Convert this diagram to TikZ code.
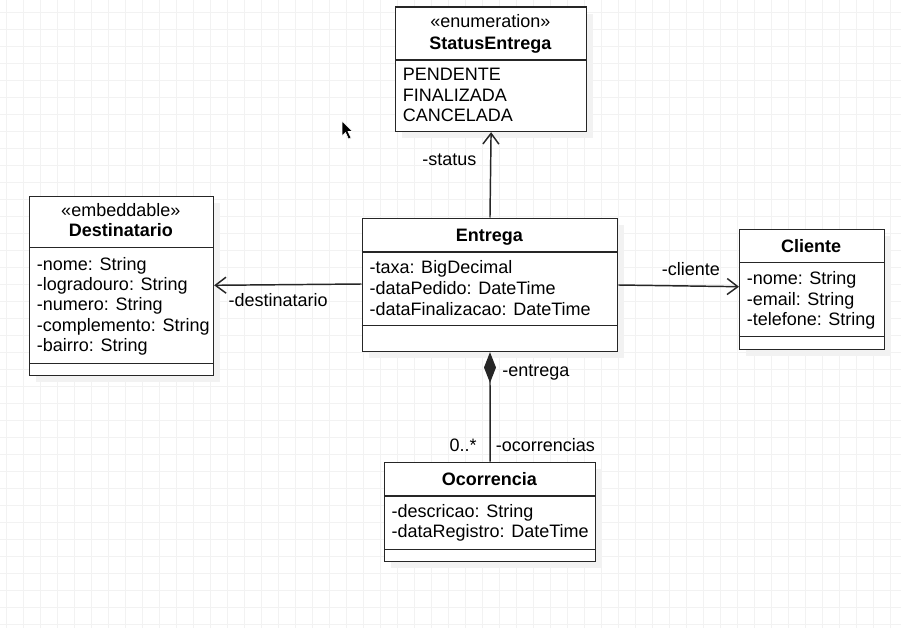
\documentclass[tikz,border=0pt]{standalone}
\usepackage{fontspec}
\setmainfont{Liberation Sans}
\usetikzlibrary{arrows.meta,shadows}
\tikzset{
  classbox/.style={draw=black!85, line width=1.1pt, fill=white, inner sep=0pt, anchor=north west,
    drop shadow={shadow xshift=5pt, shadow yshift=-5pt, fill=black!5, opacity=1}},
  sepline/.style={draw=black!85, line width=1.1pt},
  classname/.style={font=\fontsize{13.5}{16}\selectfont\bfseries, anchor=base, inner sep=0pt},
  member/.style={anchor=base west, inner sep=0pt},
  rolelabel/.style={inner sep=0pt},
  assoc/.style={draw=black!85, line width=1.1pt, -{Straight Barb[length=8pt,width=12pt]}},
  compose/.style={draw=black!85, line width=1.1pt, -{Diamond[length=23pt,width=9pt]}},
  gridline/.style={draw=black!5, line width=0.5pt}
}
\begin{document}
\begin{tikzpicture}[x=0.75pt, y=-0.75pt, font=\fontsize{13.5}{16}\selectfont]
			%%%%% START %%%%%
			
			\useasboundingbox[fill=white] (0, 0) rectangle (901, 628);
			\foreach \gx in {6, 23, ..., 900} \draw[gridline] (\gx, 0) -- (\gx, 628);
			\foreach \gy in {12, 29, ..., 627} \draw[gridline] (0, \gy) -- (901, \gy);
			
			% StatusEntrega
			\node[classbox, minimum width=190.7*0.75pt, minimum height=124.4*0.75pt] (status) at (395, 6.3) {};
			\draw[sepline] (status.west |- 0, 60) -- (status.east |- 0, 60);
			\node[anchor=base, inner sep=0pt] (statusstereo) at (490.3, 27) {«enumeration»};
			\node[classname] (statusname) at (490.3, 49) {StatusEntrega};
			\node[member] (pendente) at (402.7, 80) {PENDENTE};
			\node[member] (finalizada) at (402.7, 101) {FINALIZADA};
			\node[member] (cancelada) at (402.7, 121.5) {CANCELADA};
			
			% Destinatario
			\node[classbox, minimum width=183.7*0.75pt, minimum height=179.3*0.75pt] (destinatario) at (29, 195.7) {};
			\draw[sepline] (destinatario.west |- 0, 247.3) -- (destinatario.east |- 0, 247.3);
			\draw[sepline] (destinatario.west |- 0, 363.3) -- (destinatario.east |- 0, 363.3);
			\node[anchor=base, inner sep=0pt] (destinatariostereo) at (120.8, 216.5) {«embeddable»};
			\node[classname] (destinatarioname) at (120.8, 236.5) {Destinatario};
			\node[member] (dnome) at (36.7, 270) {-nome: String};
			\node[member] (dlogradouro) at (36.7, 290) {-logradouro: String};
			\node[member] (dnumero) at (36.7, 310.5) {-numero: String};
			\node[member] (dcomplemento) at (36.7, 331) {-complemento: String};
			\node[member] (dbairro) at (36.7, 351.5) {-bairro: String};
			
			% Entrega
			\node[classbox, minimum width=255.5*0.75pt, minimum height=133.2*0.75pt] (entrega) at (361.5, 217.5) {};
			\draw[sepline] (entrega.west |- 0, 252) -- (entrega.east |- 0, 252);
			\draw[sepline] (entrega.west |- 0, 325.7) -- (entrega.east |- 0, 325.7);
			\node[classname] (entreganame) at (489.3, 241.5) {Entrega};
			\node[member] (etaxa) at (369.3, 273) {-taxa: BigDecimal};
			\node[member] (epedido) at (369.3, 294) {-dataPedido: DateTime};
			\node[member] (efinalizacao) at (369.3, 315) {-dataFinalizacao: DateTime};
			
			% Cliente
			\node[classbox, minimum width=144.5*0.75pt, minimum height=120.3*0.75pt] (cliente) at (739, 228.7) {};
			\draw[sepline] (cliente.west |- 0, 262.7) -- (cliente.east |- 0, 262.7);
			\draw[sepline] (cliente.west |- 0, 336.7) -- (cliente.east |- 0, 336.7);
			\node[classname] (clientename) at (811.2, 252.5) {Cliente};
			\node[member] (cnome) at (746.5, 284) {-nome: String};
			\node[member] (cemail) at (746.5, 305) {-email: String};
			\node[member] (ctelefone) at (746.5, 325.5) {-telefone: String};
			
			% Ocorrencia
			\node[classbox, minimum width=210.7*0.75pt, minimum height=99.3*0.75pt] (ocorrencia) at (384, 461.7) {};
			\draw[sepline] (ocorrencia.west |- 0, 496) -- (ocorrencia.east |- 0, 496);
			\draw[sepline] (ocorrencia.west |- 0, 549.3) -- (ocorrencia.east |- 0, 549.3);
			\node[classname] (ocorrencianame) at (489.3, 485) {Ocorrencia};
			\node[member] (odescricao) at (391.4, 517) {-descricao: String};
			\node[member] (oregistro) at (391.4, 537.5) {-dataRegistro: DateTime};
			
			% associations
			\draw[assoc] (entrega.north) -- (status.south);
			\draw[assoc] (entrega.west |- 0, 284) -- (destinatario.east |- 0, 285.3);
			\draw[assoc] (entrega.east |- 0, 285) -- (cliente.west |- 0, 286.7);
			\draw[compose] (ocorrencia.north) -- (entrega.south);
			
			\node[rolelabel, anchor=base east] (lstatus) at (476.7, 165.5) {-status};
			\node[rolelabel, anchor=base west] (ldestinatario) at (228.3, 306.5) {-destinatario};
			\node[rolelabel, anchor=base] (lcliente) at (691, 275) {-cliente};
			\node[rolelabel, anchor=base west] (lentrega) at (502, 376) {-entrega};
			\node[rolelabel, anchor=base east] (lmult) at (477, 451.5) {0..*};
			\node[rolelabel, anchor=base west] (locorrencias) at (495.6, 451.5) {-ocorrencias};
			
			% mouse pointer
			\draw[fill=black, draw=white, line width=0.4pt] (342, 121) -- (342, 136) -- (345.5, 132.5) -- (348.5, 139) -- (351, 138) -- (348, 131.5) -- (352.5, 131.5) -- cycle;
			
			%%%%% END %%%%%
\end{tikzpicture}
\end{document}
